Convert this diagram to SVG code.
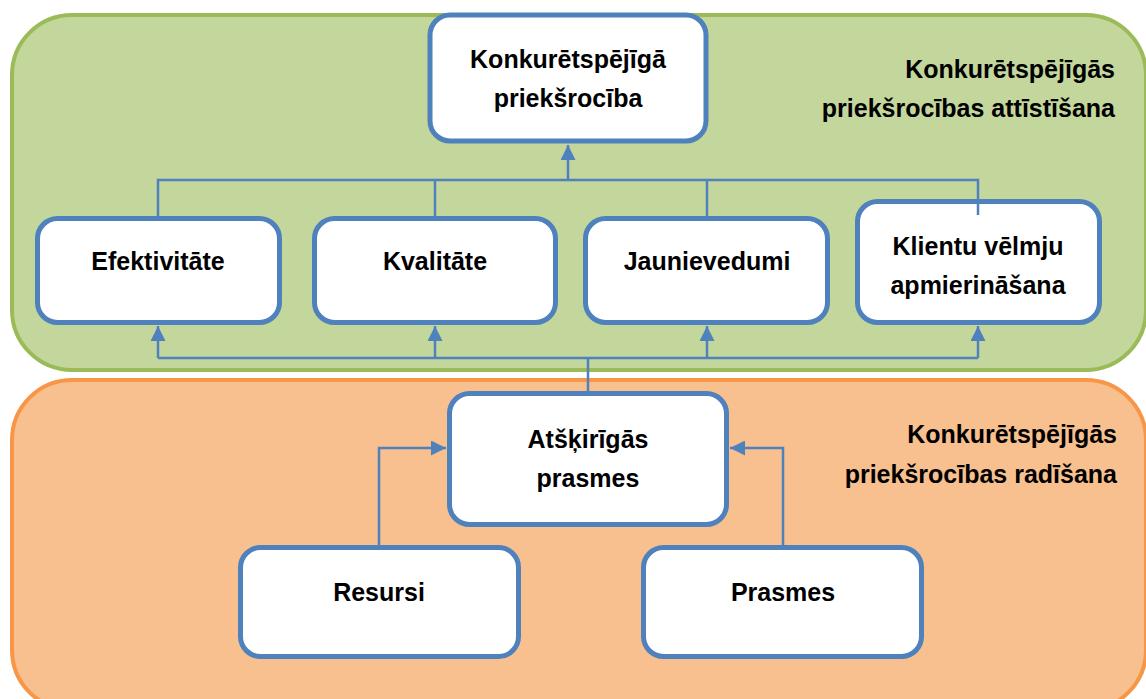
<svg xmlns="http://www.w3.org/2000/svg" width="1146" height="699" viewBox="0 0 1146 699">
<style>
.box{fill:#fff;stroke:#4F81BD;stroke-width:5}
.t{font-family:"Liberation Sans",Arial,sans-serif;font-weight:bold;font-size:25px;fill:#000}
.c{text-anchor:middle}
.r{text-anchor:end}
.ln{fill:none;stroke:#4F81BD;stroke-width:2.5}
</style>
<defs>
<marker id="ah" markerWidth="15" markerHeight="15" viewBox="0 0 15 15" refX="15" refY="7.5" orient="auto" markerUnits="userSpaceOnUse">
<path d="M0,0 L15,7.5 L0,15 Z" fill="#4F81BD"/>
</marker>
</defs>
<g id="panel-top">
<rect x="12" y="15" width="1134" height="355" rx="60" fill="#C3D69B" stroke="#9BBB59" stroke-width="4"/>
<text class="t r" x="1115" y="78">Konkurētspējīgās</text>
<text class="t r" x="1115" y="117">priekšrocības attīstīšana</text>
</g>
<g id="panel-bottom">
<rect x="12" y="380" width="1134" height="330" rx="60" fill="#F8BF8F" stroke="#F79646" stroke-width="4"/>
<text class="t r" x="1117" y="443">Konkurētspējīgās</text>
<text class="t r" x="1117" y="483">priekšrocības radīšana</text>
</g>
<g id="node-advantage">
<rect class="box" x="430" y="15" width="276" height="126" rx="20"/>
<text class="t c" x="568" y="68">Konkurētspējīgā</text>
<text class="t c" x="568" y="107">priekšrocība</text>
</g>
<g id="node-efektivitate">
<rect class="box" x="37.5" y="218.5" width="242" height="104" rx="20"/>
<text class="t c" x="158" y="270">Efektivitāte</text>
</g>
<g id="node-kvalitate">
<rect class="box" x="314.5" y="218.5" width="241" height="104" rx="20"/>
<text class="t c" x="435" y="270">Kvalitāte</text>
</g>
<g id="node-jaunievedumi">
<rect class="box" x="585.5" y="218.5" width="242" height="104" rx="20"/>
<text class="t c" x="707" y="270">Jaunievedumi</text>
</g>
<g id="node-klientu">
<rect class="box" x="857.5" y="201.5" width="242" height="121" rx="20"/>
<text class="t c" x="978" y="255">Klientu vēlmju</text>
<text class="t c" x="978" y="294">apmierināšana</text>
</g>
<g id="node-atskirigas">
<rect class="box" x="449.5" y="393.5" width="277" height="131" rx="20"/>
<text class="t c" x="588" y="448">Atšķirīgās</text>
<text class="t c" x="588" y="487">prasmes</text>
</g>
<g id="node-resursi">
<rect class="box" x="240.5" y="547.5" width="278" height="109" rx="20"/>
<text class="t c" x="379" y="601">Resursi</text>
</g>
<g id="node-prasmes">
<rect class="box" x="643.5" y="547.5" width="278" height="109" rx="20"/>
<text class="t c" x="783" y="601">Prasmes</text>
</g>
<g id="connectors">
<path class="ln" d="M158,218 V180 H978 V215"/>
<path class="ln" d="M435,218 V180"/>
<path class="ln" d="M707,218 V180"/>
<path class="ln" d="M568,180 V145" marker-end="url(#ah)"/>
<path class="ln" d="M588,392 V358"/>
<path class="ln" d="M158,358 H978"/>
<path class="ln" d="M158,358 V326" marker-end="url(#ah)"/>
<path class="ln" d="M435,358 V326" marker-end="url(#ah)"/>
<path class="ln" d="M707,358 V326" marker-end="url(#ah)"/>
<path class="ln" d="M978,358 V326" marker-end="url(#ah)"/>
<path class="ln" d="M379,546 V448 H446" marker-end="url(#ah)"/>
<path class="ln" d="M783,546 V448 H730" marker-end="url(#ah)"/>
</g>
</svg>
